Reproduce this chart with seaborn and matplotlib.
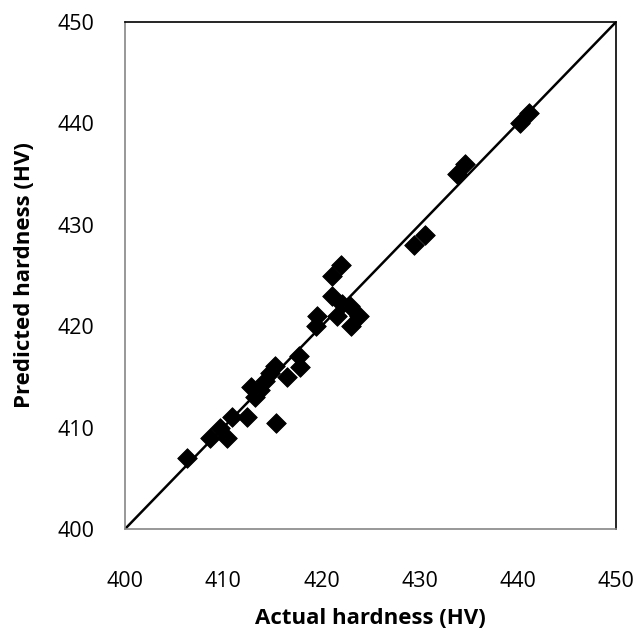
import matplotlib
matplotlib.use("Agg")
import matplotlib.pyplot as plt
import seaborn as sns
import pandas as pd

actual = [406.3, 408.7, 409.7, 410.4, 410.9, 412.4, 412.8, 413.2, 413.7, 414.3, 414.8,
          415.3, 415.4, 416.5, 417.7, 417.8, 419.4, 419.6, 421.1, 421.1, 422.0,
          421.6, 422.1, 422.9, 423.0, 423.8, 429.4, 430.5, 433.8, 434.6, 440.2, 441.1]
predicted = [407.0, 409.0, 410.0, 409.0, 411.0, 411.0, 414.0, 413.0, 413.7, 414.6, 415.4,
             416.1, 410.5, 415.0, 417.1, 416.0, 420.0, 421.0, 425.0, 423.0, 426.0,
             421.0, 422.2, 422.0, 420.0, 421.0, 428.0, 429.0, 435.0, 436.0, 440.0, 441.0]
line_x = [400, 450]
line_y = [400, 450]
ticks = [400, 410, 420, 430, 440, 450]

sns.set_theme(style="white")
plt.rcParams['font.family'] = ['Open Sans', 'DejaVu Sans']
plt.rcParams['text.color'] = 'black'
plt.rcParams['axes.labelcolor'] = 'black'
plt.rcParams['xtick.color'] = 'black'
plt.rcParams['ytick.color'] = 'black'

fig = plt.figure(figsize=(6.38, 6.39), dpi=100)
ax = fig.add_axes([125/638, 1-529/639, (616-125)/638, (529-22)/639])

df_pts = pd.DataFrame({"actual": actual, "predicted": predicted})
df_line = pd.DataFrame({"x": line_x, "y": line_y})

sns.lineplot(data=df_line, x="x", y="y", ax=ax, color="black", linewidth=1.8, zorder=2)
sns.scatterplot(data=df_pts, x="actual", y="predicted", ax=ax, marker="D", s=100,
                color="black", edgecolor="black", linewidth=0.6, zorder=3)

ax.set_xlim(400, 450)
ax.set_ylim(400, 450)
ax.set_xticks(ticks)
ax.set_yticks(ticks)
ax.tick_params(axis="both", length=0, labelsize=15.5)
ax.tick_params(axis="x", pad=30)
ax.tick_params(axis="y", pad=22)
for side in ["top", "right"]:
    ax.spines[side].set_color("black")
    ax.spines[side].set_linewidth(1.2)
for side in ["left", "bottom"]:
    ax.spines[side].set_color("#868686")
    ax.spines[side].set_linewidth(1.2)

ax.set_xlabel("Actual hardness (HV)", fontsize=16, fontweight="bold", labelpad=12)
ax.set_ylabel("Predicted hardness (HV)", fontsize=16, fontweight="bold", labelpad=16)
ax.grid(False)

fig.savefig("out.png", dpi=100)
